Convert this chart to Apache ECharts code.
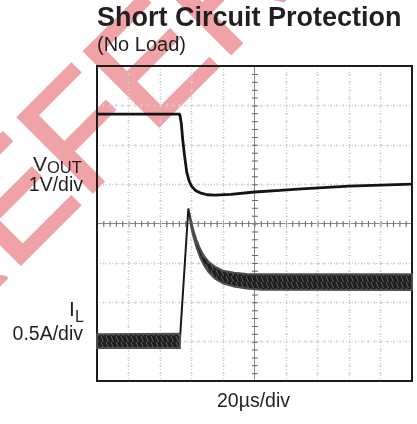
<!DOCTYPE html>
<html>
<head>
<meta charset="utf-8">
<script src="https://cdn.jsdelivr.net/npm/echarts@6/dist/echarts.min.js"></script>
<style>
  html, body { margin: 0; padding: 0; background: #fff; }
  #chart { width: 417px; height: 424px; }
</style>
</head>
<body>
<div id="chart"></div>
<script>
// time in µs (20µs/div, 10 div), traces in screen divisions (8 div)
const voutTime = [0, 52.5, 53.5, 54.5, 55.5, 57, 58.5, 60, 62.5, 65.5, 70, 75, 85, 100, 116, 130, 160, 200];
const voutDiv = [6.78, 6.78, 6.55, 6.1, 5.75, 5.3, 5.08, 4.95, 4.84, 4.78, 4.73, 4.72, 4.74, 4.8, 4.84, 4.88, 4.95, 5.0];

const ilTime = [0, 52.6, 58, 59.5, 61, 63, 65.5, 68, 71, 75, 80, 87, 95, 105, 200];
const ilDiv = [1.02, 1.02, 4.38, 4.04, 3.78, 3.51, 3.25, 3.06, 2.89, 2.75, 2.64, 2.57, 2.53, 2.515, 2.51];

// ripple envelope of the inductor current, before the short and after it
const preTime = [0, 52.6];
const preUpper = [1.19, 1.2];
const preLower = [0.84, 0.84];
const tailTime = [59.5, 61, 63, 65.5, 68, 71, 75, 80, 87, 95, 105, 200];
const tailUpper = [4.1, 3.85, 3.6, 3.35, 3.17, 3.02, 2.9, 2.8, 2.75, 2.72, 2.71, 2.71];
const tailLower = [3.98, 3.7, 3.42, 3.14, 2.94, 2.76, 2.6, 2.48, 2.4, 2.35, 2.32, 2.31];

const ripples = [
  { time: preTime, upper: preUpper, lower: preLower },
  { time: tailTime, upper: tailUpper, lower: tailLower },
];

const zip = (xs, ys) => xs.map((x, i) => [x, ys[i]]);

const textColor = '#231f20';
const font = "'Liberation Sans', Arial, sans-serif";

// small tile so the ripple band looks like the scope's smeared trace
const hatch = document.createElement('canvas');
hatch.width = 5;
hatch.height = 6;
const hctx = hatch.getContext('2d');
hctx.fillStyle = '#1f1f1f';
hctx.fillRect(0, 0, 5, 6);
hctx.strokeStyle = 'rgba(150,150,150,0.55)';
hctx.lineWidth = 1;
hctx.beginPath();
hctx.moveTo(1, 0);
hctx.lineTo(3.5, 6);
hctx.stroke();

function gridAxis(max, interval, line) {
  return {
    type: 'value',
    min: 0,
    max: max,
    interval: interval,
    axisLine: { show: false },
    axisTick: { show: false },
    axisLabel: { show: false },
    splitLine: { show: true, showMinLine: false, showMaxLine: false, lineStyle: line },
  };
}

const chart = echarts.init(document.getElementById('chart'), null, { renderer: 'canvas' });

chart.setOption({
  animation: false,
  backgroundColor: '#fff',
  grid: {
    left: 97,
    top: 66,
    width: 315,
    height: 315,
    show: true,
    borderColor: '#1c1c1c',
    borderWidth: 2,
    backgroundColor: 'transparent',
    z: 1,
  },
  xAxis: [
    gridAxis(200, 20, { color: '#c9c9c9', width: 1, type: [1, 2] }),
    gridAxis(200, 20, { color: '#d4d4d4', width: 3, type: [1, 6.875] }),
    gridAxis(200, 100, { color: '#8a8a8a', width: 1 }),
    gridAxis(200, 100, { color: '#6a6a6a', width: 6, type: [1, 6.875] }),
  ],
  yAxis: [
    gridAxis(8, 1, { color: '#c9c9c9', width: 1, type: [1, 2] }),
    gridAxis(8, 1, { color: '#d4d4d4', width: 3, type: [1, 5.3] }),
    gridAxis(8, 4, { color: '#8a8a8a', width: 1 }),
    gridAxis(8, 4, { color: '#6a6a6a', width: 6, type: [1, 5.3] }),
  ],
  series: [
    {
      type: 'custom',
      coordinateSystem: 'cartesian2d',
      xAxisIndex: 0,
      yAxisIndex: 0,
      data: ripples.map((r, i) => [r.time[0], r.upper[0], i]),
      renderItem(params, api) {
        const r = ripples[params.dataIndex];
        const pts = [];
        r.time.forEach((t, i) => pts.push(api.coord([t, r.upper[i]])));
        for (let i = r.time.length - 1; i >= 0; i--) pts.push(api.coord([r.time[i], r.lower[i]]));
        return {
          type: 'polygon',
          shape: { points: pts },
          style: { fill: { image: hatch, repeat: 'repeat' }, stroke: '#4d4d4d', lineWidth: 2 },
        };
      },
      z: 3,
    },
    {
      name: 'IL',
      type: 'line',
      xAxisIndex: 0,
      yAxisIndex: 0,
      data: zip(ilTime, ilDiv),
      symbol: 'none',
      lineStyle: { color: '#1a1a1a', width: 2 },
      z: 2,
    },
    {
      name: 'VOUT',
      type: 'line',
      xAxisIndex: 0,
      yAxisIndex: 0,
      data: zip(voutTime, voutDiv),
      symbol: 'none',
      lineStyle: { color: '#141414', width: 2.8 },
      z: 4,
    },
  ],
  graphic: [
    {
      type: 'text',
      x: -96,
      y: 321,
      rotation: Math.PI / 4,
      z: -10,
      style: {
        text: 'REFERENCE',
        font: '153px ' + font,
        fill: '#efa3a7',
        stroke: '#efa3a7',
        lineWidth: 3,
        verticalAlign: 'middle',
      },
    },
    { type: 'text', x: 97, y: 18.5, z: 10, style: { text: 'Short Circuit Protection', font: 'bold 27px ' + font, fill: textColor, verticalAlign: 'middle' } },
    { type: 'text', x: 97, y: 45.7, z: 10, style: { text: '(No Load)', font: '20px ' + font, fill: textColor, verticalAlign: 'middle' } },
    { type: 'text', x: 33, y: 165, z: 10, style: { text: 'V', font: '21px ' + font, fill: textColor, verticalAlign: 'middle' } },
    { type: 'text', x: 47, y: 168.5, z: 10, style: { text: 'OUT', font: '16.5px ' + font, fill: textColor, verticalAlign: 'middle' } },
    { type: 'text', x: 83, y: 185.5, z: 10, style: { text: '1V/div', font: '19.5px ' + font, fill: textColor, align: 'right', verticalAlign: 'middle' } },
    { type: 'text', x: 69, y: 310.5, z: 10, style: { text: 'I', font: '21px ' + font, fill: textColor, verticalAlign: 'middle' } },
    { type: 'text', x: 75, y: 317.5, z: 10, style: { text: 'L', font: '16px ' + font, fill: textColor, verticalAlign: 'middle' } },
    { type: 'text', x: 83, y: 335, z: 10, style: { text: '0.5A/div', font: '19.5px ' + font, fill: textColor, align: 'right', verticalAlign: 'middle' } },
    { type: 'text', x: 253.5, y: 402, z: 10, style: { text: '20µs/div', font: '19.5px ' + font, fill: textColor, align: 'center', verticalAlign: 'middle' } },
  ],
});
</script>
</body>
</html>
